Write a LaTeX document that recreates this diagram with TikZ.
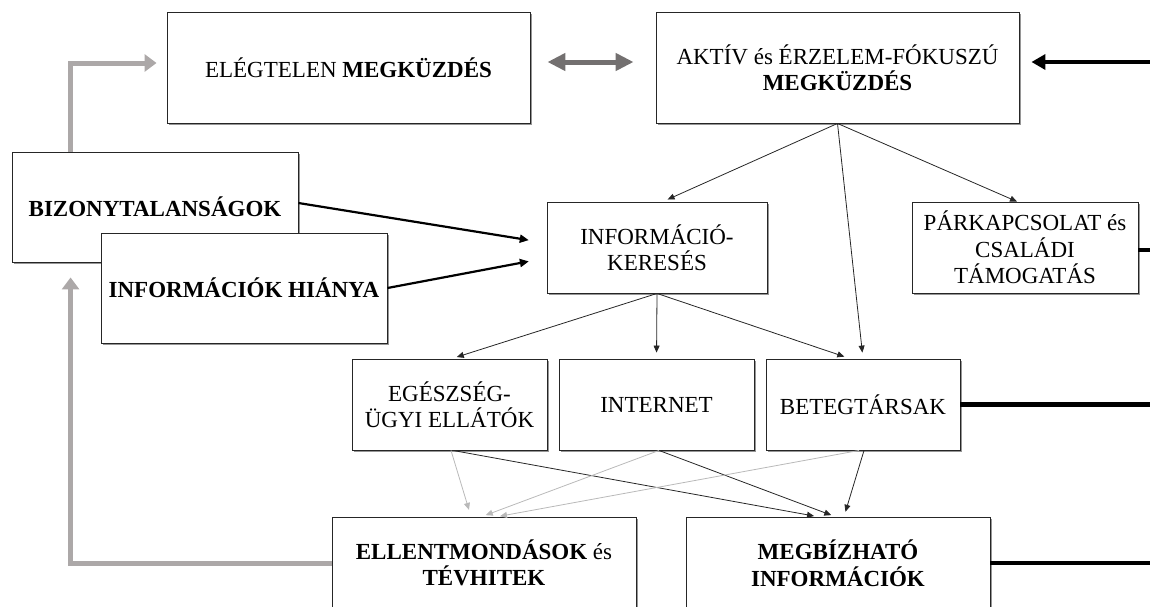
\documentclass[tikz,border=0pt]{standalone}
\usepackage{fontspec}
\setmainfont{Liberation Serif}
\usetikzlibrary{arrows.meta,shadows,calc}

\definecolor{loopgray}{RGB}{172,168,168}
\definecolor{dblgray}{RGB}{115,112,112}
\definecolor{thingray}{RGB}{185,185,185}
\definecolor{shadowgray}{RGB}{150,150,150}

\begin{document}
\begin{tikzpicture}[x=1pt,y=-1pt,
  box/.style={draw=black!85, line width=0.9pt, fill=white, align=center,
    inner sep=0pt, font=\fontsize{23}{26.5}\selectfont,
    drop shadow={shadow xshift=1.8pt, shadow yshift=-1.8pt,
      fill=shadowgray, opacity=1}},
  loop/.style={draw=loopgray, line width=5pt,
    -{Triangle[length=12pt,width=17pt]}},
  dbl/.style={draw=dblgray, line width=5pt,
    {Triangle[length=18pt,width=17pt]}-{Triangle[length=18pt,width=17pt]}},
  bold/.style={draw=black, line width=4.2pt},
  boldarrow/.style={bold, -{Triangle[length=14pt,width=15pt]}},
  mid/.style={draw=black, line width=2.2pt, -{Triangle[length=9pt,width=8pt]}},
  thin/.style={draw=black!85, line width=0.8pt, -{Triangle[length=7pt,width=6pt]}},
  faint/.style={draw=thingray, line width=0.8pt, -{Triangle[length=7pt,width=6pt]}},
]
\useasboundingbox (0,0) rectangle (1150,606);
\clip (0,0) rectangle (1150,606);

% boxes
\node[box, minimum width=363pt, minimum height=111pt] (eleg) at (348.5,67.5)
  {ELÉGTELEN \textbf{MEGKÜZDÉS}};
\node[box, minimum width=363pt, minimum height=111pt] (aktiv) at (837.5,67.5)
  {AKTÍV és ÉRZELEM-FÓKUSZÚ\\\textbf{MEGKÜZDÉS}};
\node[box, minimum width=286pt, minimum height=110pt] (bizony) at (155,207)
  {\textbf{BIZONYTALANSÁGOK}};
\node[box, minimum width=286pt, minimum height=110pt] (hianya) at (244,288)
  {\textbf{INFORMÁCIÓK HIÁNYA}};
\node[box, minimum width=220pt, minimum height=91pt] (keres) at (657,247.5)
  {INFORMÁCIÓ-\\KERESÉS};
\node[box, minimum width=226pt, minimum height=91pt] (parkap) at (1025,247.5)
  {PÁRKAPCSOLAT és\\CSALÁDI\\TÁMOGATÁS};
\node[box, minimum width=195pt, minimum height=91pt] (egesz) at (449.5,404.5)
  {EGÉSZSÉG-\\ÜGYI ELLÁTÓK};
\node[box, minimum width=195pt, minimum height=91pt] (internet) at (656.5,404.5)
  {INTERNET};
\node[box, minimum width=194pt, minimum height=91pt] (beteg) at (863,404.5)
  {BETEGTÁRSAK};
\node[box, minimum width=304pt, minimum height=92pt] (ellent) at (484,563)
  {\textbf{ELLENTMONDÁSOK} és\\\textbf{TÉVHITEK}};
\node[box, minimum width=304pt, minimum height=92pt] (megb) at (838,563)
  {\textbf{MEGBÍZHATÓ}\\\textbf{INFORMÁCIÓK}};

% free ends beyond the right margin
\coordinate (edgeR) at (1165,0);

% feedback loops
\draw[loop] ([xshift=59pt]bizony.north west) |- ([xshift=-10pt,yshift=4.5pt]eleg.west);
\draw[loop] (ellent.west) -| ([xshift=59pt,yshift=-15pt]bizony.south west);
\draw[dbl, shorten <=17pt, shorten >=22pt]
  ([yshift=5.5pt]eleg.east) -- ([yshift=5.5pt]aktiv.west);

% right-hand connections
\draw[boldarrow, shorten >=12pt]
  ([yshift=5.5pt]aktiv.east -| edgeR) -- ([yshift=5.5pt]aktiv.east);
\draw[bold] ([yshift=-2.5pt]parkap.east) -- ([yshift=-2.5pt]parkap.east -| edgeR);
\draw[bold] (beteg.east) -- (beteg.east -| edgeR);
\draw[bold] (megb.east) -- (megb.east -| edgeR);

% uncertainty and missing information lead to searching
\draw[mid, shorten >=18pt] ([yshift=4pt]bizony.east) -- ([yshift=4.5pt]keres.west);
\draw[mid, shorten >=18pt] (hianya.east) -- ([yshift=-10.5pt]keres.west);

% coping branches
\draw[thin, shorten >=5pt] (aktiv.south) -- ([xshift=6pt]keres.north);
\draw[thin] (aktiv.south) -- ([xshift=-8pt]parkap.north);
\draw[thin, shorten >=6pt] (aktiv.south) -- (beteg.north);

% sources of information
\draw[thin, shorten >=5pt] (keres.south) -- ([xshift=2.5pt]egesz.north);
\draw[thin, shorten >=6pt] (keres.south) -- (internet.north);
\draw[thin, shorten >=6pt] (keres.south) -- ([xshift=-13pt]beteg.north);

% sources to outcomes
\draw[faint, shorten >=7pt] ([xshift=1.5pt]egesz.south) -- ([xshift=-13pt]ellent.north);
\draw[thin, shorten >=3pt] ([xshift=3.5pt]egesz.south) -- ([xshift=-21pt]megb.north);
\draw[faint, shorten >=4pt] ([xshift=2.5pt]internet.south) -- ([xshift=-2pt]ellent.north);
\draw[thin, shorten >=4pt] ([xshift=2.5pt]internet.south) -- ([xshift=-3pt]megb.north);
\draw[faint, shorten >=2pt] ([xshift=-4pt]beteg.south) -- ([xshift=14pt]ellent.north);
\draw[thin, shorten >=5pt] ([xshift=1pt]beteg.south) -- ([xshift=6pt]megb.north);
\end{tikzpicture}
\end{document}
